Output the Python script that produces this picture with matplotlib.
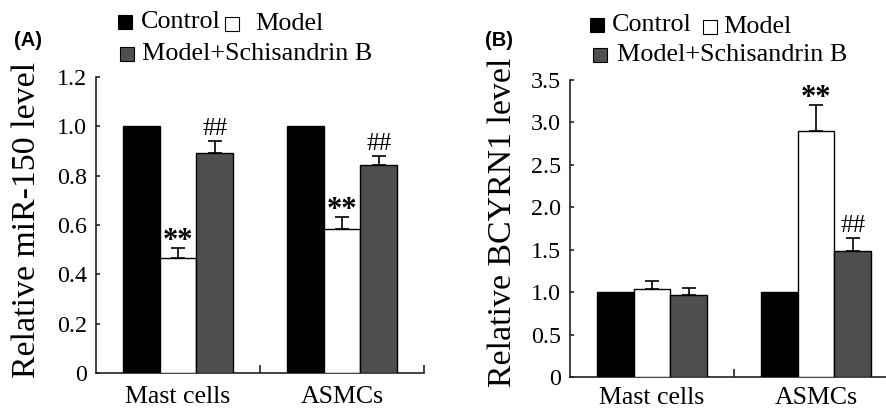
import matplotlib
matplotlib.use("Agg")
import matplotlib.pyplot as plt
import numpy as np
from matplotlib.lines import Line2D

categories = ["Mast cells", "ASMCs"]
series_names = ["Control", "Model", "Model+Schisandrin B"]

# Panel A: Relative miR-150 level
A_control = [1.0, 1.0]
A_model = [0.467, 0.584]
A_model_err = [0.041, 0.050]
A_schB = [0.890, 0.845]
A_schB_err = [0.050, 0.033]
A_yticks = [0, 0.2, 0.4, 0.6, 0.8, 1.0, 1.2]
A_yticklabels = ["0", "0.2", "0.4", "0.6", "0.8", "1.0", "1.2"]
A_model_marks = ["**", "**"]
A_schB_marks = ["##", "##"]

# Panel B: Relative BCYRN1 level
B_control = [1.0, 1.0]
B_model = [1.044, 2.90]
B_model_err = [0.090, 0.31]
B_schB = [0.970, 1.488]
B_schB_err = [0.078, 0.147]
B_yticks = [0, 0.5, 1.0, 1.5, 2.0, 2.5, 3.0, 3.5]
B_yticklabels = ["0", "0.5", "1.0", "1.5", "2.0", "2.5", "3.0", "3.5"]
B_model_marks = ["", "**"]
B_schB_marks = ["", "##"]

colors = ["#000000", "#ffffff", "#4f4f4f"]
SERIF = "Liberation Serif"
AXC = "#222222"

W, H = 886, 408
fig = plt.figure(figsize=(W / 100, H / 100), dpi=100)


def draw_panel(rect, control, model, model_err, schB, schB_err, yticks, yticklabels,
               ylim, ylabel, model_marks, schB_marks, label_x, label_y, xpad):
    ax = fig.add_axes(rect)
    x = np.arange(len(categories))
    w = 0.225
    ekw = dict(ecolor="black", elinewidth=1.2, capthick=1.2, capsize=5)
    ax.bar(x - w, control, w, color=colors[0], edgecolor="black", linewidth=1.0, zorder=3)
    ax.bar(x, model, w, color=colors[1], edgecolor="black", linewidth=1.0, zorder=3,
           yerr=[np.zeros(len(model)), model_err], error_kw=ekw)
    ax.bar(x + w, schB, w, color=colors[2], edgecolor="black", linewidth=1.0, zorder=3,
           yerr=[np.zeros(len(schB)), schB_err], error_kw=ekw)
    for i in range(len(categories)):
        if model_marks[i]:
            ax.annotate(model_marks[i], xy=(x[i], model[i] + model_err[i]), xytext=(0, -6),
                        textcoords="offset points", ha="center", va="bottom",
                        fontsize=22, family=SERIF, fontweight="bold")
        if schB_marks[i]:
            ax.annotate(schB_marks[i], xy=(x[i] + w, schB[i] + schB_err[i]), xytext=(0, 1),
                        textcoords="offset points", ha="center", va="bottom",
                        fontsize=18, family=SERIF)
    ax.set_xlim(-0.5, 1.5)
    ax.set_ylim(*ylim)
    ax.set_yticks(yticks)
    ax.set_yticklabels(yticklabels, fontsize=17.3, family=SERIF)
    ax.set_xticks(x)
    ax.set_xticklabels(categories, fontsize=18.6, family=SERIF)
    ax.set_xticks([0.5, 1.5], minor=True)
    ax.tick_params(axis="x", which="major", length=0, pad=xpad)
    ax.tick_params(axis="x", which="minor", direction="in", length=6, width=1.2, color=AXC)
    ax.tick_params(axis="y", direction="in", length=3, width=1.2, pad=6.5, color=AXC)
    for s in ["top", "right"]:
        ax.spines[s].set_visible(False)
    for s in ["left", "bottom"]:
        ax.spines[s].set_linewidth(1.2)
        ax.spines[s].set_color(AXC)
    ax.set_ylabel(ylabel, fontsize=24.4, family=SERIF)
    ax.yaxis.set_label_coords(label_x, label_y)
    return ax


axA = draw_panel([96 / W, 1 - 373 / H, 328 / W, 296 / H], A_control, A_model, A_model_err,
                 A_schB, A_schB_err, A_yticks, A_yticklabels, (0, 1.2),
                 "Relative miR-150 level", A_model_marks, A_schB_marks, -0.164, 0.517, 9.5)
axB = draw_panel([570 / W, 1 - 377.3 / H, 328 / W, 297.3 / H], B_control, B_model, B_model_err,
                 B_schB, B_schB_err, B_yticks, B_yticklabels, (0, 3.5),
                 "Relative BCYRN1 level", B_model_marks, B_schB_marks, -0.159, 0.522, 7.0)


def legend(x_black, y1, x_white, x_gray, y2, tx_ctrl, tx_model, tx_schb):
    def px(xp, yp):
        return xp / W, 1 - yp / H
    for (mx, my), c, in [((x_black, y1), colors[0]), ((x_white, y1 + 2), colors[1]), ((x_gray, y2), colors[2])]:
        fig.add_artist(Line2D([px(mx, my)[0]], [px(mx, my)[1]], marker="s", markersize=10.5,
                              markerfacecolor=c, markeredgecolor="black", markeredgewidth=0.8,
                              linestyle="none", transform=fig.transFigure))
    fig.text(*px(tx_ctrl, y1), series_names[0], fontsize=18.8, family=SERIF, va="center", ha="left")
    fig.text(*px(tx_model, y1 + 2), series_names[1], fontsize=18.8, family=SERIF, va="center", ha="left")
    fig.text(*px(tx_schb, y2), series_names[2], fontsize=18.8, family=SERIF, va="center", ha="left")


legend(125, 22, 232, 127, 54, 141, 255, 142)
legend(597, 25, 710, 600, 55, 612, 723, 617)

fig.text(14 / W, 1 - 40 / H, "(A)", fontsize=14.5, family="Liberation Sans", fontweight="bold",
         va="center", ha="left")
fig.text(485 / W, 1 - 40 / H, "(B)", fontsize=14.5, family="Liberation Sans", fontweight="bold",
         va="center", ha="left")

fig.savefig("out.png", dpi=100)
